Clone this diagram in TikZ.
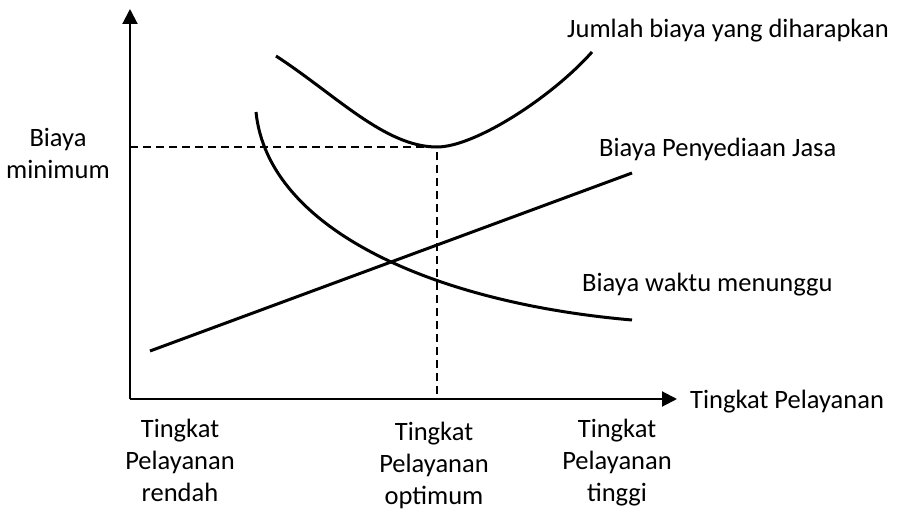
\documentclass[tikz,border=0pt]{standalone}
\usepackage{fontspec}
\setmainfont{Carlito}
\usetikzlibrary{arrows.meta}
\begin{document}
\begin{tikzpicture}[x=1pt,y=-1pt,
  lbl/.style={inner sep=0pt, font=\fontsize{26.5}{32}\selectfont},
  axis/.style={line width=2pt, -{Triangle[length=15pt,width=15pt]}},
  curve/.style={line width=3pt},
  guide/.style={line width=1.5pt, dash pattern=on 8pt off 5pt}]
\useasboundingbox (0,0) rectangle (898,511);
% axes
\coordinate (O) at (130,399);
\coordinate (ytip) at (130,9);
\coordinate (xtip) at (677,399);
\draw[axis] (O) -- (ytip);
\draw[axis] (O) -- (xtip);
% guide lines
\coordinate (ymin) at (130,147);
\coordinate (tcmin) at (437,147);
\coordinate (xopt) at (437,399);
\draw[guide] (ymin) -- (tcmin) -- (xopt);
% total expected cost
\coordinate (tc1) at (276,56);
\coordinate (tc2) at (592,52);
\draw[curve] (tc1) .. controls (336,95) and (385,147) .. (tcmin)
  .. controls (475,147) and (552,97) .. (tc2);
% waiting cost
\coordinate (wc1) at (256,112);
\coordinate (wc2) at (632,320);
\draw[curve] (wc1) .. controls (268,230) and (435,303) .. (wc2);
% service cost
\coordinate (pc1) at (150,351);
\coordinate (pc2) at (632,173);
\draw[curve] (pc1) -- (pc2);
% labels
\node[lbl, anchor=base west] (ltc) at (567,38) {Jumlah biaya yang diharapkan};
\node[lbl, anchor=base west] (lpc) at (599,157) {Biaya Penyediaan Jasa};
\node[lbl, anchor=base west] (lwc) at (582,291) {Biaya waktu menunggu};
\node[lbl, anchor=base west] (lx) at (690,408) {Tingkat Pelayanan};
\node[lbl, anchor=base, align=center] (ly) at (58,178) {Biaya\\minimum};
\node[lbl, anchor=base, align=center] (l1) at (180,501) {Tingkat\\Pelayanan\\rendah};
\node[lbl, anchor=base, align=center] (l2) at (434,504) {Tingkat\\Pelayanan\\optimum};
\node[lbl, anchor=base, align=center] (l3) at (617,501) {Tingkat\\Pelayanan\\tinggi};
\end{tikzpicture}
\end{document}
